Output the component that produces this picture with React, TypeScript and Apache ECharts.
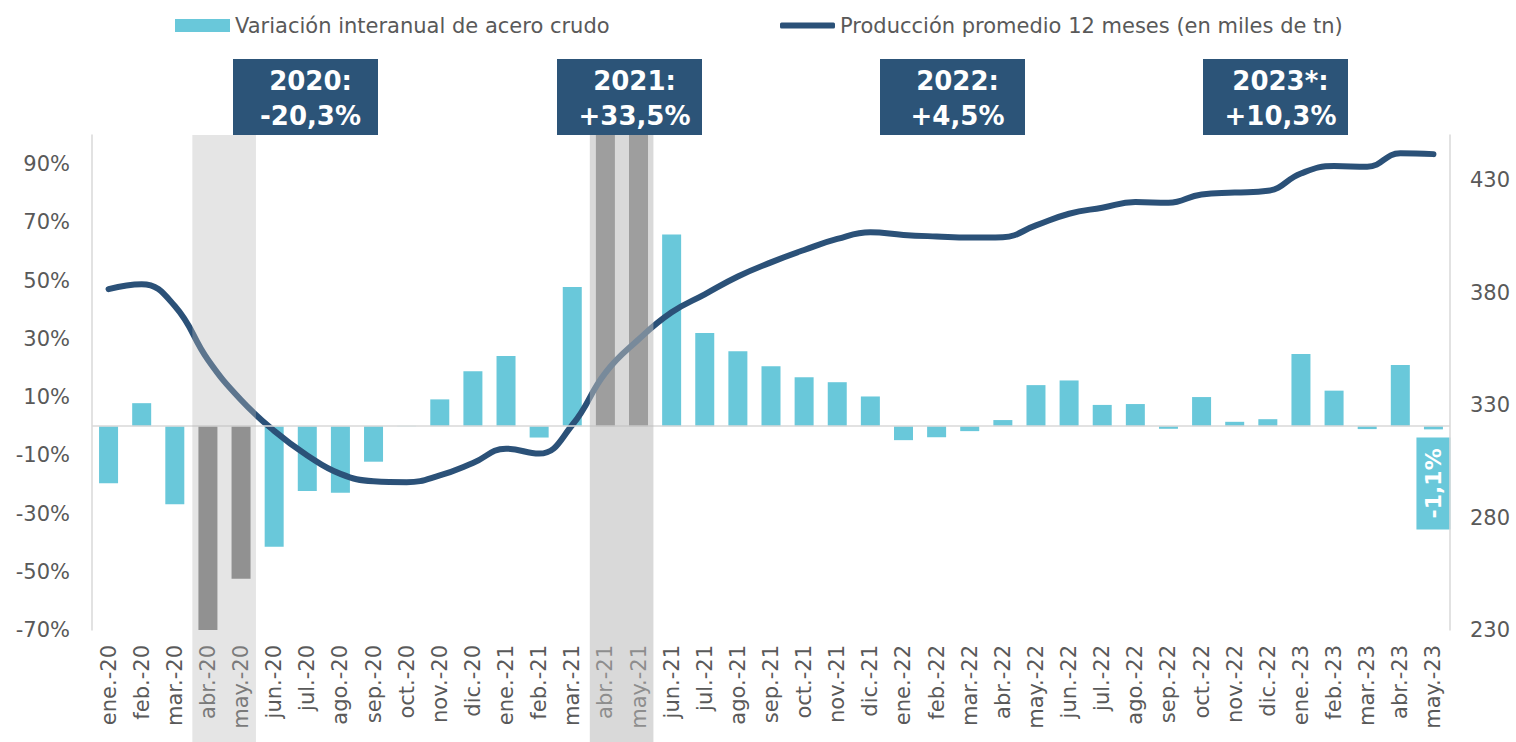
import { useEffect, useRef } from "react";
import * as echarts from "echarts";

const categories = [
  "ene.-20", "feb.-20", "mar.-20", "abr.-20", "may.-20", "jun.-20", "jul.-20", "ago.-20", "sep.-20", "oct.-20", "nov.-20", "dic.-20",
  "ene.-21", "feb.-21", "mar.-21", "abr.-21", "may.-21", "jun.-21", "jul.-21", "ago.-21", "sep.-21", "oct.-21", "nov.-21", "dic.-21",
  "ene.-22", "feb.-22", "mar.-22", "abr.-22", "may.-22", "jun.-22", "jul.-22", "ago.-22", "sep.-22", "oct.-22", "nov.-22", "dic.-22",
  "ene.-23", "feb.-23", "mar.-23", "abr.-23", "may.-23",
];

// Variación interanual de acero crudo (%)
const variation = [
  -19.6, 7.9, -26.8, -71.0, -52.4, -41.4, -22.3, -22.9, -12.2, 0.1, 9.2, 18.9,
  24.1, -3.9, 47.8, 250.0, 110.0, 65.8, 32.0, 25.7, 20.6, 16.8, 15.1, 10.2,
  -4.8, -3.8, -1.7, 2.1, 14.1, 15.7, 7.3, 7.6, -0.9, 10.0, 1.5, 2.4,
  24.8, 12.2, -1.0, 21.0, -1.1,
];

// Producción promedio 12 meses (miles de tn)
const production = [
  381.5, 383.7, 374.0, 350.1, 332.2, 318.5, 307.6, 299.4, 296.1, 295.7, 298.7, 304.2,
  310.6, 308.4, 321.1, 344.3, 359.1, 371.2, 379.2, 387.1, 393.4, 398.9, 403.8, 406.8,
  405.6, 404.9, 404.4, 404.6, 409.8, 415.0, 417.7, 420.2, 419.9, 423.6, 424.4, 425.2,
  432.9, 436.2, 435.9, 441.9, 441.5,
];

const shadedPeriods = [
  ["abr.-20", "may.-20"],
  ["abr.-21", "may.-21"],
];

const yearTitles = ["2020:", "2021:", "2022:", "2023*:"];
const yearValues = ["-20,3%", "+33,5%", "+4,5%", "+10,3%"];

const lastLabel = "-1,1%";

const barName = "Variación interanual de acero crudo";
const lineName = "Producción promedio 12 meses (en miles de tn)";

const FONT = "DejaVu Sans";
const CYAN = "#69c8da";
const NAVY = "#2b5178";
const GREY_BAR = "#7d7d7d";
const TEXT = "#595959";
const AXIS = "#d9d9d9";

const GRID = { left: 92, right: 66, top: 135, bottom: 112 };
const BOX_LEFTS = [233, 557, 880, 1203];
const BOX_W = 145;
const BOX_TOP = 59;
const BOX_H = 76;
const SHADE_FILLS = ["rgba(182,182,182,0.355)", "rgba(185,185,185,0.546)"];

export default function App() {
  const ref = useRef<HTMLDivElement>(null);

  useEffect(() => {
    if (!ref.current) return;
    const chart = echarts.init(ref.current, null, { renderer: "svg" });
    const shadedSet = new Set(shadedPeriods.flat());

    chart.setOption({
      animation: false,
      backgroundColor: "#ffffff",
      textStyle: { fontFamily: FONT },
      legend: [
        {
          data: [barName],
          left: 175,
          top: 15,
          padding: 0,
          icon: "rect",
          itemWidth: 55,
          itemHeight: 13,
          textStyle: { fontFamily: FONT, fontSize: 21, color: TEXT },
        },
        {
          data: [lineName],
          left: 780,
          top: 15,
          padding: 0,
          icon: "roundRect",
          itemWidth: 55,
          itemHeight: 6,
          textStyle: { fontFamily: FONT, fontSize: 21, color: TEXT },
        },
      ],
      grid: GRID,
      xAxis: {
        type: "category",
        data: categories,
        axisLine: { show: false },
        axisTick: { show: false },
        axisLabel: {
          interval: 0,
          rotate: 90,
          margin: 15,
          fontFamily: FONT,
          fontSize: 21,
          color: TEXT,
        },
      },
      yAxis: [
        {
          type: "value",
          min: -70,
          max: 100,
          interval: 20,
          splitLine: { show: false },
          axisTick: { show: false },
          axisLine: { show: true, lineStyle: { color: AXIS, width: 1.5 } },
          axisLabel: {
            showMaxLabel: false,
            margin: 22,
            fontFamily: FONT,
            fontSize: 21,
            color: TEXT,
            formatter: (v: number) => `${Math.round(v)}%`,
          },
        },
        {
          type: "value",
          min: 230,
          max: 450,
          interval: 50,
          splitLine: { show: false },
          axisTick: { show: false },
          axisLine: { show: true, lineStyle: { color: AXIS, width: 1.5 } },
          axisLabel: {
            showMaxLabel: false,
            margin: 20,
            fontFamily: FONT,
            fontSize: 21,
            color: TEXT,
          },
        },
      ],
      series: [
        {
          name: barName,
          type: "bar",
          yAxisIndex: 0,
          barWidth: 19,
          itemStyle: { color: CYAN },
          data: variation.map((v, i) => ({
            value: v,
            itemStyle: { color: shadedSet.has(categories[i]) ? GREY_BAR : CYAN },
          })),
          markLine: {
            silent: true,
            symbol: ["none", "none"],
            label: { show: false },
            lineStyle: { color: AXIS, width: 1.5, type: "solid" },
            data: [{ yAxis: 0 }],
          },
        },
        {
          name: lineName,
          type: "line",
          yAxisIndex: 1,
          data: production,
          smooth: 0.45,
          symbol: "none",
          itemStyle: { color: NAVY },
          lineStyle: { color: NAVY, width: 6, cap: "round" },
        },
      ],
    });

    const px = (c: string) => chart.convertToPixel({ xAxisIndex: 0 }, c) as number;
    const bw = px(categories[1]) - px(categories[0]);
    const shades = shadedPeriods.map(([a, b], k) => ({
      type: "rect",
      silent: true,
      z: 100,
      shape: {
        x: px(a) - bw * 0.47,
        y: GRID.top,
        width: px(b) - px(a) + bw * 0.92,
        height: 742 - GRID.top,
      },
      style: { fill: SHADE_FILLS[k] },
    }));

    const boxes = yearTitles.map((t, k) => ({
      type: "group",
      z: 110,
      children: [
        {
          type: "rect",
          shape: { x: BOX_LEFTS[k], y: BOX_TOP, width: BOX_W, height: BOX_H },
          style: { fill: "#2c5478" },
        },
        {
          type: "text",
          x: BOX_LEFTS[k] + BOX_W / 2 + 5,
          y: BOX_TOP + BOX_H / 2 + 1,
          style: {
            text: `${t}\n${yearValues[k]}`,
            fill: "#ffffff",
            font: `bold 26px "${FONT}"`,
            lineHeight: 35,
            align: "center",
            verticalAlign: "middle",
          },
        },
      ],
    }));

    const lastIdx = categories.length - 1;
    const lx = px(categories[lastIdx]);
    const ly = chart.convertToPixel({ yAxisIndex: 0 }, variation[lastIdx]) as number;
    const lastBox = {
      type: "group",
      z: 110,
      children: [
        {
          type: "rect",
          shape: { x: lx - 17, y: ly + 8, width: 34, height: 92 },
          style: { fill: CYAN },
        },
        {
          type: "text",
          x: lx,
          y: ly + 8 + 46,
          rotation: Math.PI / 2,
          style: {
            text: lastLabel,
            fill: "#ffffff",
            font: `bold 22px "${FONT}"`,
            align: "center",
            verticalAlign: "middle",
          },
        },
      ],
    };

    chart.setOption({ graphic: [...shades, ...boxes, lastBox] });

    return () => chart.dispose();
  }, []);

  return (
    <div
      ref={ref}
      style={{ position: "absolute", left: 0, top: 0, width: 1516, height: 742 }}
    />
  );
}
